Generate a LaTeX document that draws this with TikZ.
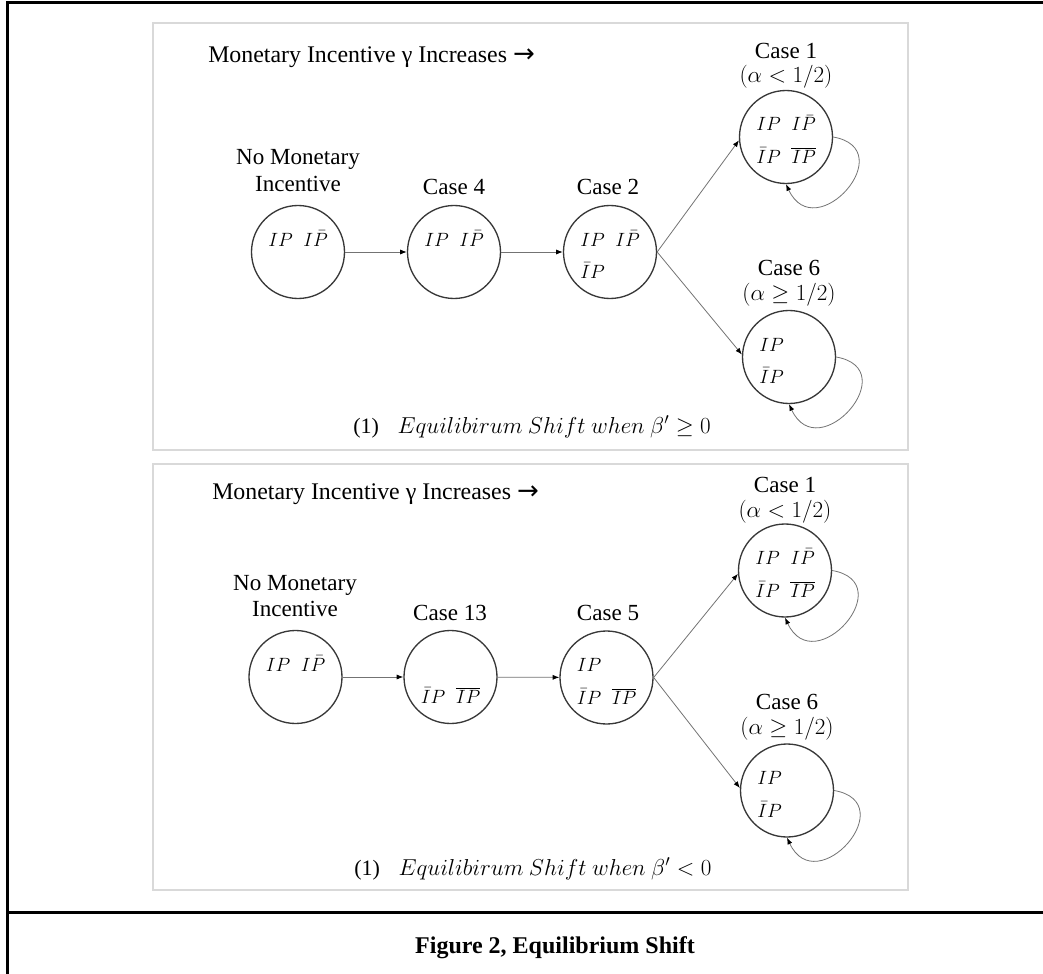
\documentclass[tikz,border=0pt]{standalone}
\usepackage{fontspec}
\setmainfont{Liberation Serif}
\newfontfamily\arrowfont{DejaVu Sans}
\usetikzlibrary{arrows.meta}
\begin{document}
\begin{tikzpicture}[x=0.75pt,y=-0.75pt,
  state/.style={circle, draw=black!78, line width=1pt, minimum size=69.75pt, inner sep=0pt},
  lbl/.style={font=\fontsize{17.3}{20}\selectfont, inner sep=0pt, anchor=base},
  lblw/.style={lbl, anchor=base west},
  ttl/.style={lblw, font=\fontsize{17.9}{20}\selectfont},
  capt/.style={lblw, font=\fontsize{16.5}{20}\selectfont},
  cell/.style={font=\fontsize{14.4}{17}\selectfont, inner sep=0pt, anchor=base west},
  conn/.style={draw=black!55, line width=0.6pt, -{Latex[length=5pt,width=3.8pt,color=black]}},
  panel/.style={draw=black!15, line width=1.1pt},
  frame/.style={line width=2.25pt, line join=miter}
]
\useasboundingbox (0,0) rectangle (1043,974);
% outer frame
\draw[frame] (7,974) -- (7,3) -- (1043,3);
\draw[frame] (7,912) -- (1043,912);
\node[font=\fontsize{18}{22}\selectfont\bfseries, inner sep=0pt, anchor=base] (fig) at (555,953) {Figure 2, Equilibrium Shift};

% ================= panel 1 =================
\draw[panel] (153,23) rectangle (908,450);
\node[ttl] (p1title) at (208,63) {Monetary Incentive γ Increases {\arrowfont\fontsize{19.5}{20}\selectfont →}};
\node[state] (a1) at (298,252) {};
\node[state] (a2) at (454,252) {};
\node[state] (a3) at (610,252) {};
\node[state] (a4) at (786,137) {};
\node[state] (a5) at (789,357) {};
\node[lbl] (a1t1) at (298,164) {No Monetary};
\node[lbl] (a1t2) at (298,191) {Incentive};
\node[lbl] (a2t) at (454,195) {Case 4};
\node[lbl] (a3t) at (608,195) {Case 2};
\node[lbl] (a4t1) at (786,59) {Case 1};
\node[lbl] (a4t2) at (786,83) {$(\alpha < 1/2)$};
\node[lbl] (a5t1) at (789,275) {Case 6};
\node[lbl] (a5t2) at (789,300) {$(\alpha \geq 1/2)$};
\node[capt] (p1cap) at (353,433) {(1)\hspace{14pt}$Equilibirum\ Shift\ when\ \beta' \geq 0$};
% cells
\node[cell] (a1c11) at ([shift={(-30,-6)}]a1.center) {$IP$};
\node[cell] (a1c12) at ([shift={(5,-6)}]a1.center) {$I\bar{P}$};
\node[cell] (a2c11) at ([shift={(-30,-6)}]a2.center) {$IP$};
\node[cell] (a2c12) at ([shift={(5,-6)}]a2.center) {$I\bar{P}$};
\node[cell] (a3c11) at ([shift={(-30,-6)}]a3.center) {$IP$};
\node[cell] (a3c12) at ([shift={(5,-6)}]a3.center) {$I\bar{P}$};
\node[cell] (a3c21) at ([shift={(-30,26.5)}]a3.center) {$\bar{I}P$};
\node[cell] (a4c11) at ([shift={(-30,-6)}]a4.center) {$IP$};
\node[cell] (a4c12) at ([shift={(5,-6)}]a4.center) {$I\bar{P}$};
\node[cell] (a4c21) at ([shift={(-30,26.5)}]a4.center) {$\bar{I}P$};
\node[cell] (a4c22) at ([shift={(5,26.5)}]a4.center) {$\overline{IP}$};
\node[cell] (a5c11) at ([shift={(-30,-6)}]a5.center) {$IP$};
\node[cell] (a5c21) at ([shift={(-30,26.5)}]a5.center) {$\bar{I}P$};
% connectors
\draw[conn] (a1) -- (a2);
\draw[conn] (a2) -- (a3);
\draw[conn] (a3.east) -- (a4.184);
\draw[conn] (a3.east) -- (a5.177);
\draw[conn] (a4.east) .. controls +(10:70) and +(65:70) .. (a4.south);
\draw[conn] (a5.east) .. controls +(10:70) and +(65:70) .. (a5.south);

% ================= panel 2 =================
\draw[panel] (153,464) rectangle (908,890);
\node[ttl] (p2title) at (212,499) {Monetary Incentive γ Increases {\arrowfont\fontsize{19.5}{20}\selectfont →}};
\node[state] (b1) at (295.5,677) {};
\node[state] (b2) at (450.5,677) {};
\node[state] (b3) at (606.5,677.5) {};
\node[state] (b4) at (785,570.5) {};
\node[state] (b5) at (787,790.5) {};
\node[lbl] (b1t1) at (295,590) {No Monetary};
\node[lbl] (b1t2) at (295,616) {Incentive};
\node[lbl] (b2t) at (450,620) {Case 13};
\node[lbl] (b3t) at (608,620) {Case 5};
\node[lbl] (b4t1) at (785,492) {Case 1};
\node[lbl] (b4t2) at (785,517) {$(\alpha < 1/2)$};
\node[lbl] (b5t1) at (787,709) {Case 6};
\node[lbl] (b5t2) at (787,734) {$(\alpha \geq 1/2)$};
\node[capt] (p2cap) at (354,875) {(1)\hspace{14pt}$Equilibirum\ Shift\ when\ \beta' < 0$};
% cells
\node[cell] (b1c11) at ([shift={(-30,-6)}]b1.center) {$IP$};
\node[cell] (b1c12) at ([shift={(5,-6)}]b1.center) {$I\bar{P}$};
\node[cell] (b2c21) at ([shift={(-30,26.5)}]b2.center) {$\bar{I}P$};
\node[cell] (b2c22) at ([shift={(5,26.5)}]b2.center) {$\overline{IP}$};
\node[cell] (b3c11) at ([shift={(-30,-6)}]b3.center) {$IP$};
\node[cell] (b3c21) at ([shift={(-30,26.5)}]b3.center) {$\bar{I}P$};
\node[cell] (b3c22) at ([shift={(5,26.5)}]b3.center) {$\overline{IP}$};
\node[cell] (b4c11) at ([shift={(-30,-6)}]b4.center) {$IP$};
\node[cell] (b4c12) at ([shift={(5,-6)}]b4.center) {$I\bar{P}$};
\node[cell] (b4c21) at ([shift={(-30,26.5)}]b4.center) {$\bar{I}P$};
\node[cell] (b4c22) at ([shift={(5,26.5)}]b4.center) {$\overline{IP}$};
\node[cell] (b5c11) at ([shift={(-30,-6)}]b5.center) {$IP$};
\node[cell] (b5c21) at ([shift={(-30,26.5)}]b5.center) {$\bar{I}P$};
% connectors
\draw[conn] (b1) -- (b2);
\draw[conn] (b2) -- (b3);
\draw[conn] (b3.east) -- (b4.184);
\draw[conn] (b3.east) -- (b5.177);
\draw[conn] (b4.east) .. controls +(10:70) and +(65:70) .. (b4.south);
\draw[conn] (b5.east) .. controls +(10:70) and +(65:70) .. (b5.south);
\end{tikzpicture}
\end{document}
